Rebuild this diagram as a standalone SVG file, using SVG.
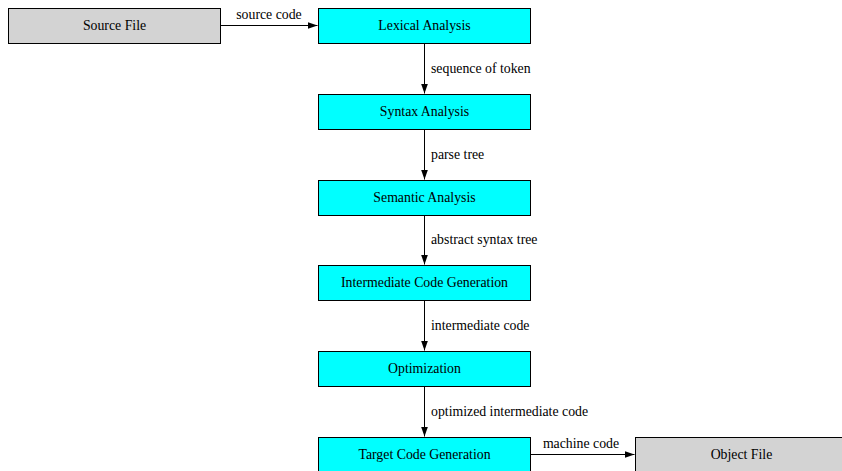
<svg xmlns="http://www.w3.org/2000/svg" width="842" height="471" viewBox="0 0 842 471" font-family="'Liberation Serif', 'DejaVu Serif', serif">
<style>
.n rect{stroke:#000;stroke-width:1}
.p rect{fill:#00ffff}
.f rect{fill:#d3d3d3}
text{font-family:'Liberation Serif','Times New Roman','DejaVu Serif',serif;font-size:13.8px;fill:#000}
.n text{text-anchor:middle}
.e line{stroke:#000;stroke-width:1}
</style>
<defs>
<marker id="ah" viewBox="0 0 10 10" refX="10" refY="5" markerWidth="10" markerHeight="10" markerUnits="userSpaceOnUse" orient="auto">
<path d="M0,1.5 L10,5 L0,8.5 Z" fill="#000"/>
</marker>
</defs>
<rect width="842" height="471" fill="#fff"/>
<g id="connectors" class="e">
<line x1="220.5" y1="25.5" x2="317.5" y2="25.5" marker-end="url(#ah)"/>
<text x="269" y="18.5" text-anchor="middle">source code</text>
<line x1="424.5" y1="43" x2="424.5" y2="93.5" marker-end="url(#ah)"/>
<text x="431" y="72.5">sequence of token</text>
<line x1="424.5" y1="129" x2="424.5" y2="179.5" marker-end="url(#ah)"/>
<text x="431" y="158.5">parse tree</text>
<line x1="424.5" y1="215" x2="424.5" y2="264.5" marker-end="url(#ah)"/>
<text x="431" y="243.5">abstract syntax tree</text>
<line x1="424.5" y1="300" x2="424.5" y2="350.5" marker-end="url(#ah)"/>
<text x="431" y="329.5">intermediate code</text>
<line x1="424.5" y1="386" x2="424.5" y2="436.5" marker-end="url(#ah)"/>
<text x="431" y="415.5">optimized intermediate code</text>
<line x1="530.5" y1="454.5" x2="634.5" y2="454.5" marker-end="url(#ah)"/>
<text x="581" y="447.5" text-anchor="middle">machine code</text>
</g>
<g id="source" class="n f"><rect x="8.5" y="8.5" width="212" height="35"/><text x="114.5" y="29.5">Source File</text></g>
<g id="lexical" class="n p"><rect x="318.5" y="8.5" width="212" height="35"/><text x="424.5" y="29.5">Lexical Analysis</text></g>
<g id="syntax" class="n p"><rect x="318.5" y="94.5" width="212" height="35"/><text x="424.5" y="115.5">Syntax Analysis</text></g>
<g id="semantic" class="n p"><rect x="318.5" y="180.5" width="212" height="35"/><text x="424.5" y="201.5">Semantic Analysis</text></g>
<g id="intermediate" class="n p"><rect x="318.5" y="265.5" width="212" height="35"/><text x="424.5" y="286.5">Intermediate Code Generation</text></g>
<g id="optimization" class="n p"><rect x="318.5" y="351.5" width="212" height="35"/><text x="424.5" y="372.5">Optimization</text></g>
<g id="target" class="n p"><rect x="318.5" y="437.5" width="212" height="35"/><text x="424.5" y="458.5">Target Code Generation</text></g>
<g id="object" class="n f"><rect x="635.5" y="437.5" width="212" height="35"/><text x="741.5" y="458.5">Object File</text></g>
</svg>
